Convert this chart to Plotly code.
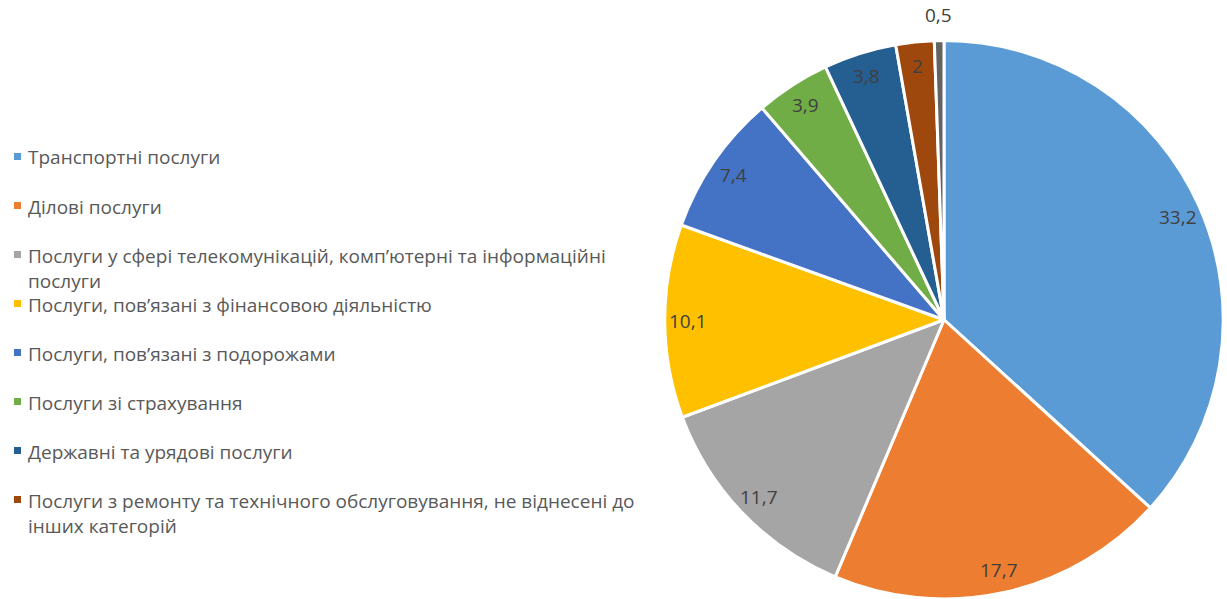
import math
import plotly.graph_objects as go

categories = [
    "Транспортні послуги",
    "Ділові послуги",
    "Послуги у сфері телекомунікацій, комп\u2019ютерні та інформаційні<br>послуги",
    "Послуги, пов\u2019язані з фінансовою діяльністю",
    "Послуги, пов\u2019язані з подорожами",
    "Послуги зі страхування",
    "Державні та урядові послуги",
    "Послуги з ремонту та технічного обслуговування, не віднесені до<br>інших категорій",
    "Інші послуги",
]
values = [33.2, 17.7, 11.7, 10.1, 7.4, 3.9, 3.8, 2, 0.5]
colors = ["#5B9BD5", "#ED7D31", "#A5A5A5", "#FFC000", "#4472C4",
          "#70AD47", "#255E91", "#9E480E", "#636363"]
legend_count = 8  # the last slice has no legend entry in the original

W, H = 1227, 599
FONT = "Open Sans"
TXT = "#595959"
LBL = "#404040"

# pie geometry (pixels) -> domain
CX, CY, R = 944, 320, 279.5
dom_x = [(CX - R) / W, (CX + R) / W]
dom_y = [max(0.0, 1 - (CY + R) / H), 1 - (CY - R) / H]

labels_txt = [f"{v:g}".replace(".", ",") for v in values]

fig = go.Figure()
fig.add_trace(go.Pie(
    labels=categories,
    values=values,
    textinfo="none",
    sort=False,
    direction="clockwise",
    rotation=0,
    marker=dict(colors=colors, line=dict(color="white", width=3)),
    showlegend=False,
    hoverinfo="label+value",
    domain=dict(x=dom_x, y=dom_y),
))

# data labels placed at the slice mid-angles (derived from the values)
total = sum(values)
cum = 0.0
for i, v in enumerate(values):
    mid = (cum + v / 2) / total * 2 * math.pi
    cum += v
    rr = R * (0.915 if i < len(values) - 1 else 1.09)
    px = CX + rr * math.sin(mid)
    py = CY - rr * math.cos(mid)
    fig.add_annotation(xref="paper", yref="paper", x=px / W, y=1 - py / H,
                       xanchor="center", yanchor="middle", showarrow=False,
                       text=labels_txt[i],
                       font=dict(family=FONT, size=19, color=LBL))

# manual legend (8 entries)
for i in range(legend_count):
    yc = 156.5 + 49 * i
    fig.add_shape(type="rect", xref="paper", yref="paper",
                  x0=14 / W, x1=21 / W,
                  y0=1 - (yc + 3.5) / H, y1=1 - (yc - 3.5) / H,
                  fillcolor=colors[i], line=dict(width=0))
    fig.add_annotation(xref="paper", yref="paper", x=26 / W,
                       y=1 - (yc - 14) / H, xanchor="left", yanchor="top",
                       text=categories[i], showarrow=False, align="left",
                       font=dict(family=FONT, size=19, color=TXT))

fig.update_layout(
    width=W, height=H,
    margin=dict(l=0, r=0, t=0, b=0),
    paper_bgcolor="white",
    plot_bgcolor="white",
)
fig.write_html("out.html",
               config={"displayModeBar": False},
               post_script="document.body.style.margin='0';"
                           "document.documentElement.style.margin='0';"
                           "document.body.style.overflow='hidden';")
